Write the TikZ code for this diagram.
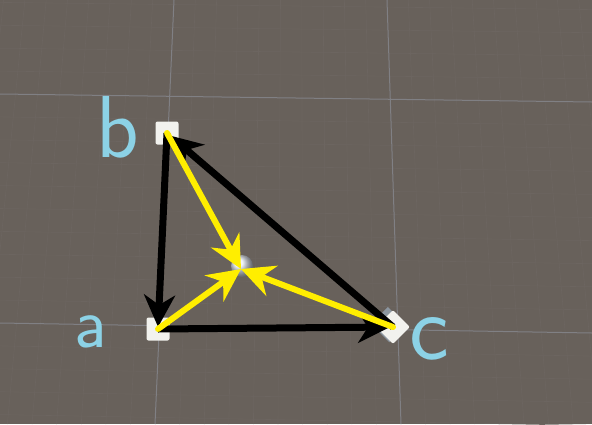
\documentclass[tikz,border=0pt]{standalone}
\usetikzlibrary{arrows.meta}
\definecolor{bg}{RGB}{104,97,91}
\definecolor{minorline}{RGB}{108,101,96}
\definecolor{majorline}{RGB}{128,128,132}
\definecolor{vertexwhite}{RGB}{242,242,238}
\definecolor{vertexshadow}{RGB}{140,150,160}
\definecolor{labelblue}{RGB}{140,210,230}
\definecolor{arrowyellow}{RGB}{255,238,0}
\definecolor{spherecol}{RGB}{232,238,248}
\tikzset{
  vertexbox/.style={fill=vertexwhite, minimum size=23pt, inner sep=0pt, rounded corners=2pt},
  edgearrow/.style={line width=7pt, black, -{Stealth[length=32pt 0 0,width=31pt 0 0,inset=10pt]}},
  centerarrow/.style={line width=6pt, arrowyellow, -{Stealth[length=33pt 0 0,width=32pt 0 0,inset=11pt]}, line cap=round},
  handlabel/.style={text=labelblue, inner sep=0pt, anchor=base west, font=\sffamily}
}
\begin{document}
\begin{tikzpicture}[x=1pt,y=-1pt]
\useasboundingbox (0,0) rectangle (592,424);
\fill[bg] (0,0) rectangle (592,424);
% faint minor grid
\foreach \k in {-5,...,15}{
  \draw[minorline, line width=0.6pt] (0,{94+\k*22.9}) -- (592,{102+\k*23.1});
}
\foreach \k in {-9,...,20}{
  \draw[minorline, line width=0.6pt] ({174+\k*21.3},0) -- ({155+\k*24.6},424);
}
% major grid
\draw[majorline, line width=1pt] (0,94) -- (592,102);
\draw[majorline, line width=1pt] (0,323) -- (592,333);
\draw[majorline, line width=1pt] (174,0) -- (155,424);
\draw[majorline, line width=1pt] (387,0) -- (401,424);

% centre sphere
\shade[ball color=spherecol] (242,266) circle (11pt);
\coordinate (o) at (241,269);

% vertices
\node[vertexbox] (b) at (167,133) {};
\fill[vertexshadow] (147,318) rectangle (152,326);
\node[vertexbox] (a) at (158,329) {};
\fill[vertexshadow, rotate around={45:(390,326)}] (378,311) rectangle (402,337);
\node[vertexbox, rotate=45, minimum size=24pt] (c) at (393,327) {};

% black triangle edges
\draw[edgearrow, shorten >=2pt] (b.center) -- (a.center);
\draw[edgearrow, shorten >=3pt] (a.center) -- (c.center);
\draw[edgearrow, shorten >=4pt] (c.center) -- (b.center);

% yellow arrows to centre
\draw[centerarrow] (b.center) -- (o);
\draw[centerarrow] (a.center) -- (o);
\draw[centerarrow] (c.center) -- (o);

% labels
\node[handlabel, font=\sffamily\fontsize{88}{88}\selectfont] (lb) at (96,157) {b};
\node[handlabel, font=\sffamily\fontsize{72}{72}\selectfont] (la) at (74,347) {a};
\node[handlabel, font=\sffamily\fontsize{95}{95}\selectfont] (lc) at (409,359) {c};
\end{tikzpicture}
\end{document}
